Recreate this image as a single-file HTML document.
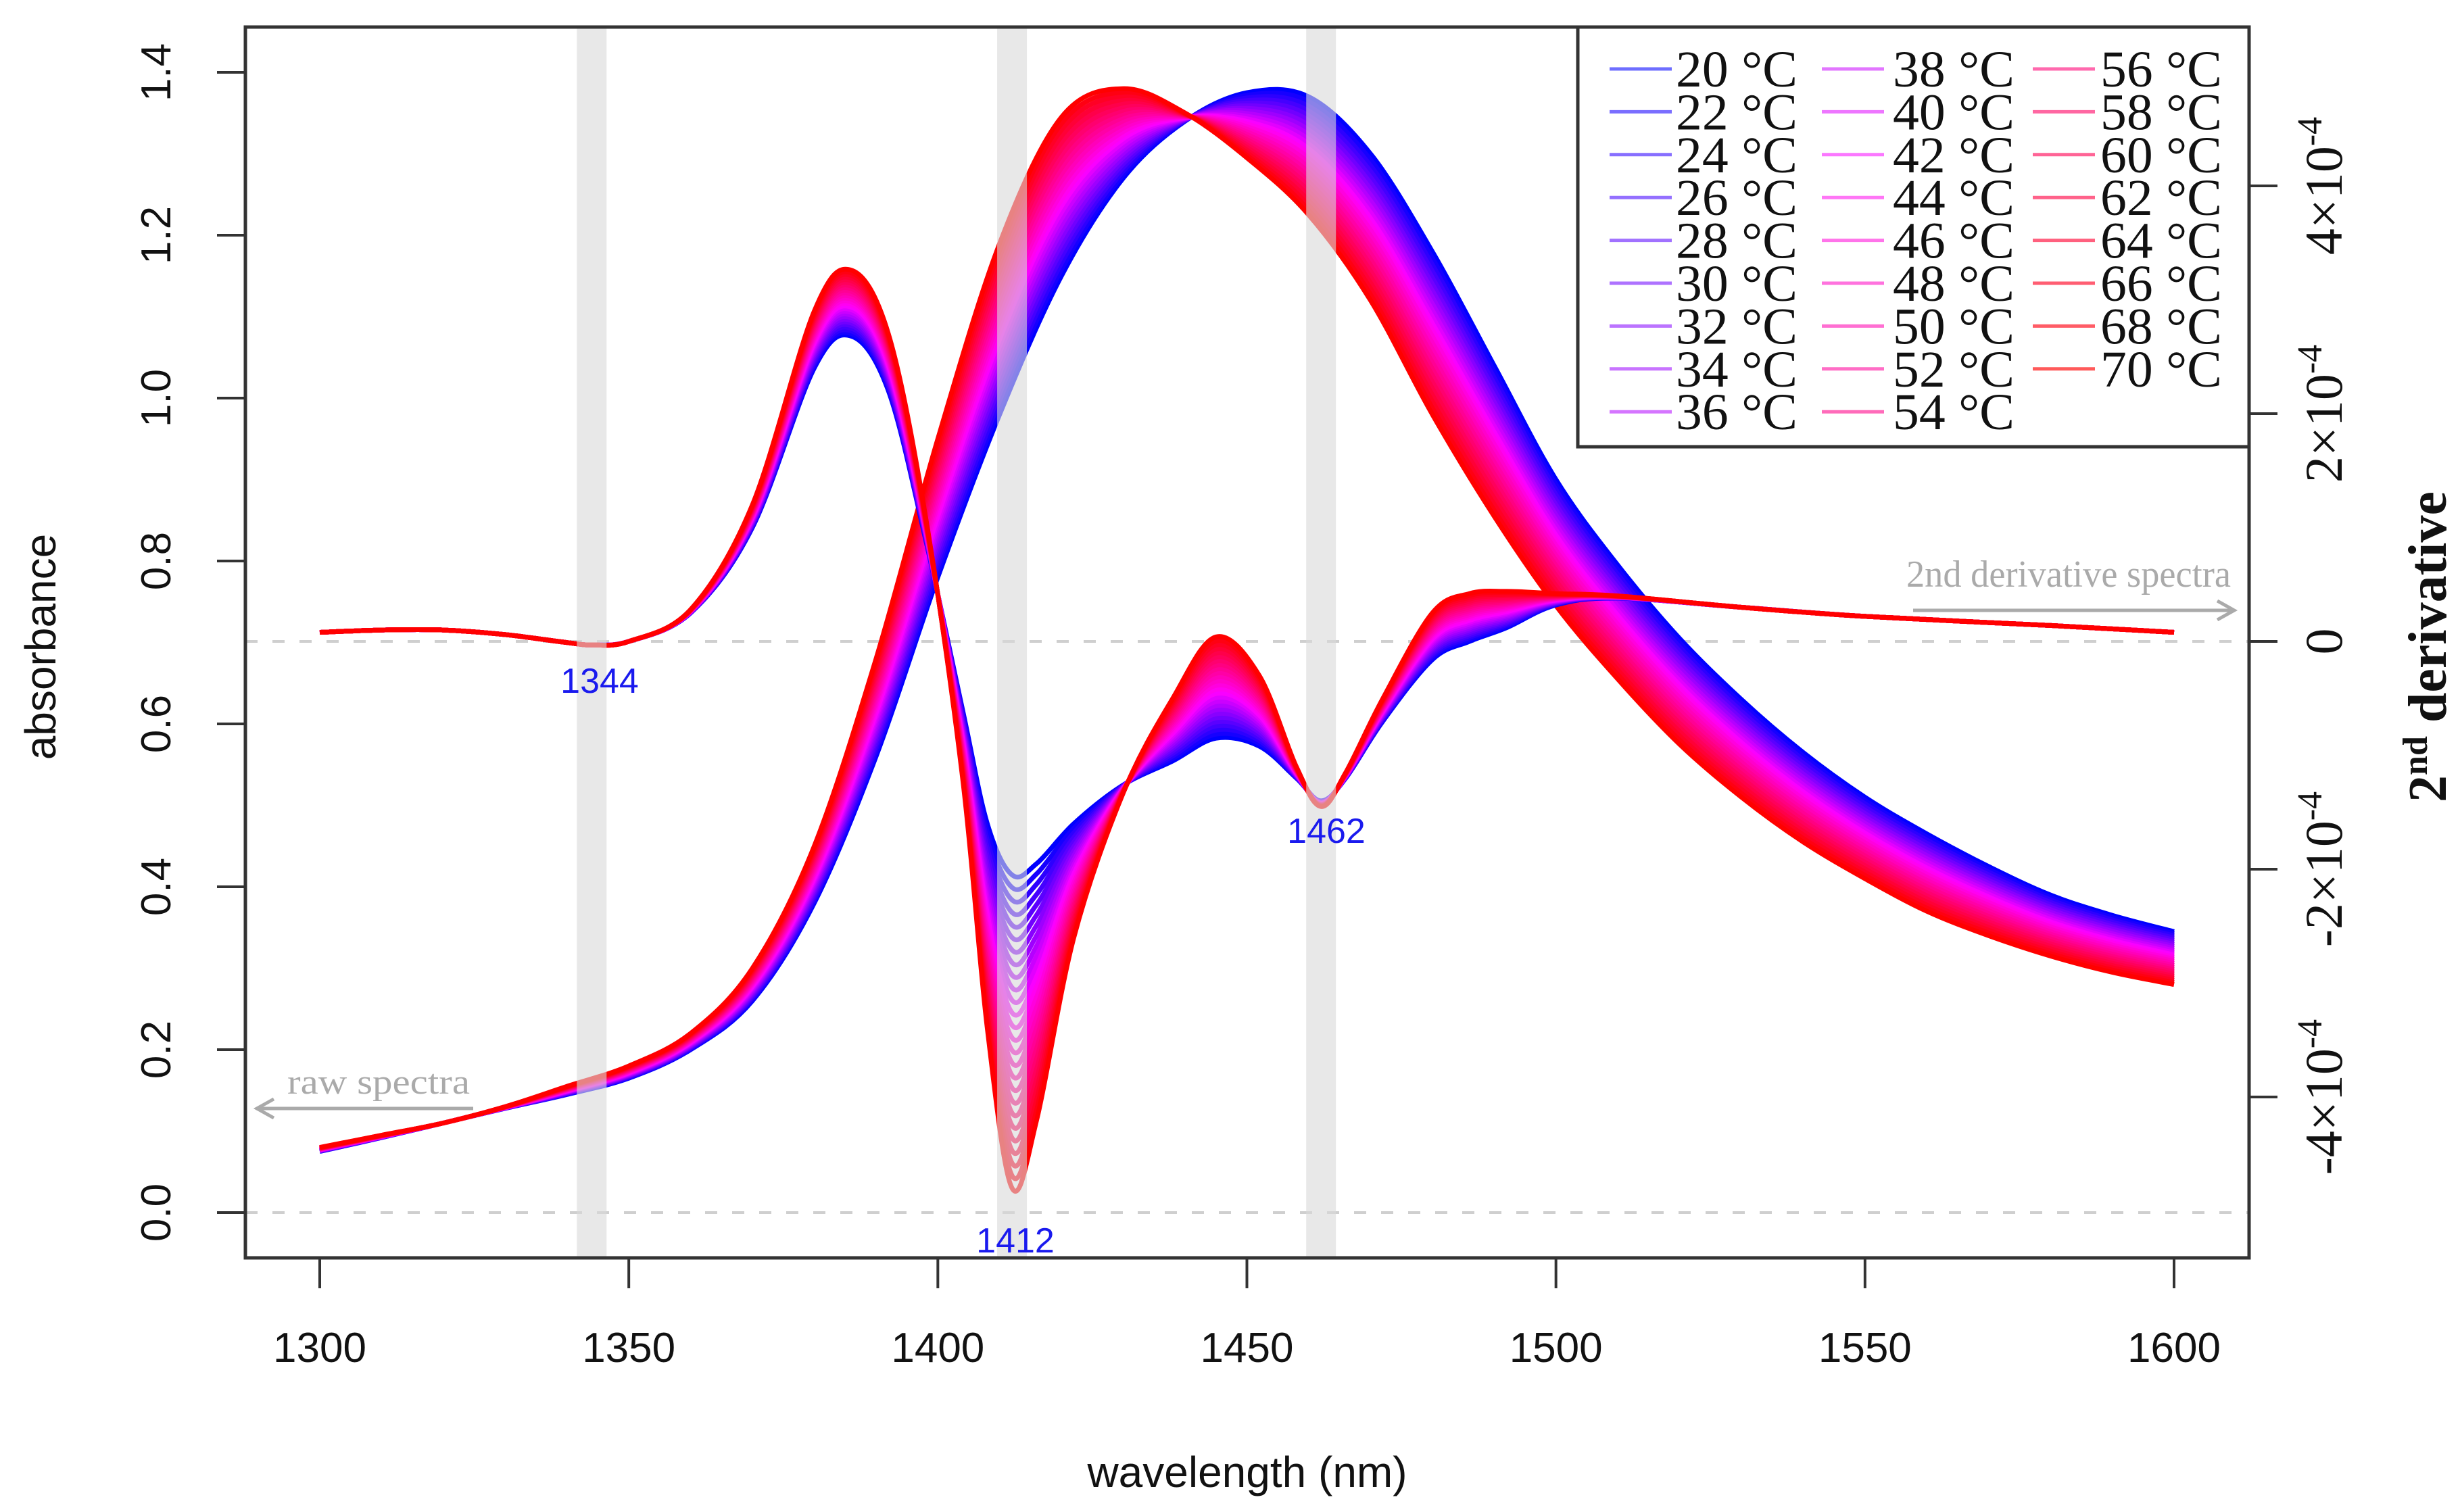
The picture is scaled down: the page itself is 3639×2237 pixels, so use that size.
<!DOCTYPE html>
<html><head><meta charset="utf-8"><style>
html,body{margin:0;padding:0;background:#fff}
svg{display:block}
</style></head><body>
<svg id="chart" width="3639" height="2237" viewBox="0 0 3639 2237" xmlns="http://www.w3.org/2000/svg">
<g id="bg"></g>
<g id="rawLines"></g>
<g id="derLines"></g>
<g id="bands"></g>
<g id="axes"></g>
<g id="legend"></g>
</svg>
<script>
const temps = [20,22,24,26,28,30,32,34,36,38,40,42,44,46,48,50,52,54,56,58,60,62,64,66,68,70];
const rawWl = [1300,1310,1320,1330,1340,1350,1360,1370,1380,1390,1400,1410,1420,1430,1440,1450,1460,1470,1480,1490,1500,1510,1520,1530,1540,1550,1560,1570,1580,1590,1600];
const raw20 = [0.075,0.092,0.11,0.128,0.145,0.165,0.2,0.26,0.38,0.56,0.78,0.98,1.15,1.27,1.34,1.375,1.37,1.30,1.18,1.04,0.90,0.795,0.705,0.63,0.565,0.51,0.465,0.425,0.39,0.365,0.345];
const raw70 = [0.08,0.095,0.11,0.13,0.155,0.18,0.22,0.30,0.45,0.68,0.95,1.19,1.345,1.38,1.35,1.295,1.225,1.12,0.98,0.855,0.745,0.655,0.575,0.51,0.455,0.41,0.37,0.34,0.315,0.295,0.28];
const derWl = [1300,1310,1320,1330,1340,1344,1350,1360,1370,1380,1386,1392,1398,1404,1408,1412,1416,1422,1430,1438,1445,1452,1458,1462,1466,1472,1480,1486,1492,1500,1510,1530,1550,1580,1600];
const der20 = [0.08,0.1,0.1,0.06,-0.01,-0.03,0.0,0.25,1.0,2.4,2.68,2.2,0.9,-0.6,-1.6,-2.05,-1.95,-1.6,-1.26,-1.05,-0.85,-0.92,-1.2,-1.4,-1.2,-0.7,-0.16,0.0,0.12,0.32,0.38,0.3,0.22,0.14,0.08];
const der70 = [0.08,0.1,0.1,0.06,-0.01,-0.03,0.0,0.28,1.2,2.9,3.26,2.7,1.1,-1.2,-3.4,-4.8,-4.2,-2.6,-1.33,-0.5,0.04,-0.3,-1.1,-1.45,-1.15,-0.5,0.25,0.42,0.44,0.42,0.4,0.3,0.22,0.14,0.08];
const xTicks = [1300,1350,1400,1450,1500,1550,1600];
const yTicks = [0.0,0.2,0.4,0.6,0.8,1.0,1.2,1.4];
const y2Ticks = [-4,-2,0,2,4];
const bandsWl = [1344,1412,1462];

const NS='http://www.w3.org/2000/svg';
const L=363,R=3327,T=40,B=1861;
const xs = w => 473 + (w-1300)*(3216-473)/300;
const ys = a => 1794 - a*(1794-107)/1.4;
const y2s = d => 949 - d*337/2;
function mk(tag,attrs,parent){const e=document.createElementNS(NS,tag);for(const k in attrs)e.setAttribute(k,attrs[k]);parent.appendChild(e);return e;}
function smooth(pts){let d='M'+pts[0][0]+','+pts[0][1];for(let i=0;i<pts.length-1;i++){const p0=pts[Math.max(0,i-1)],p1=pts[i],p2=pts[i+1],p3=pts[Math.min(pts.length-1,i+2)];const c1=[p1[0]+(p2[0]-p0[0])/6,p1[1]+(p2[1]-p0[1])/6],c2=[p2[0]-(p3[0]-p1[0])/6,p2[1]-(p3[1]-p1[1])/6];d+=`C${c1[0].toFixed(1)},${c1[1].toFixed(1)} ${c2[0].toFixed(1)},${c2[1].toFixed(1)} ${p2[0].toFixed(1)},${p2[1].toFixed(1)}`;}return d;}
function col(f){let r,g,b;if(f<0.45){const t=f/0.45;r=255*t;g=0;b=255;}else{const t=(f-0.45)/0.55;r=255;g=0;b=255*(1-t);}return `rgb(${r|0},${g|0},${b|0})`;}

const bg=document.getElementById('bg');
const zl1=mk('line',{x1:L,x2:R,y1:ys(0),y2:ys(0),stroke:'#cfcfcf','stroke-width':4,'stroke-dasharray':'18 22'},bg);

const zl2=mk('line',{x1:L,x2:R,y1:y2s(0),y2:y2s(0),stroke:'#cfcfcf','stroke-width':4,'stroke-dasharray':'18 22'},bg);


const rawG=document.getElementById('rawLines'),derG=document.getElementById('derLines');
temps.forEach((t,i)=>{
  const f=i/(temps.length-1);
  const rp=rawWl.map((w,j)=>[xs(w),ys(raw20[j]*(1-f)+raw70[j]*f)]);
  const p=mk('path',{d:smooth(rp),fill:'none',stroke:col(f),'stroke-width':7,'stroke-linejoin':'round'},rawG);
  
  const dp=derWl.map((w,j)=>[xs(w),y2s(der20[j]*(1-f)+der70[j]*f)]);
  const q=mk('path',{d:smooth(dp),fill:'none',stroke:col(f),'stroke-width':7,'stroke-linejoin':'round'},derG);
  
});

const bandG=document.getElementById('bands');
bandsWl.forEach(w=>{
  const r=mk('rect',{x:xs(w)-22,y:T,width:44,height:B-T,fill:'#d8d8d8','fill-opacity':0.6},bandG);
  
});

const ax=document.getElementById('axes');
const box=mk('rect',{x:L,y:T,width:R-L,height:B-T,fill:'none',stroke:'#333','stroke-width':5},ax);

const FS='"Liberation Sans", sans-serif', FT='"Liberation Serif", serif';
xTicks.forEach(v=>{
  const l=mk('line',{x1:xs(v),x2:xs(v),y1:B,y2:B+45,stroke:'#333','stroke-width':4},ax);
  
  const tx=mk('text',{x:xs(v),y:2015,'text-anchor':'middle','font-family':FS,'font-size':62,fill:'#111'},ax);
  tx.textContent=v;
});
yTicks.forEach(v=>{
  const l=mk('line',{x1:L,x2:L-42,y1:ys(v),y2:ys(v),stroke:'#333','stroke-width':4},ax);
  
  const tx=mk('text',{x:0,y:0,transform:`translate(252,${ys(v)}) rotate(-90)`,'text-anchor':'middle','font-family':FS,'font-size':62,fill:'#111'},ax);
  tx.textContent=v.toFixed(1);
});
y2Ticks.forEach(v=>{
  const l=mk('line',{x1:R,x2:R+42,y1:y2s(v),y2:y2s(v),stroke:'#333','stroke-width':4},ax);
  
  const tx=mk('text',{x:0,y:0,transform:`translate(3464,${y2s(v)}) rotate(-90)`,'text-anchor':'middle','font-family':FT,'font-size':78,fill:'#111'},ax);
  if(v===0){tx.textContent='0';}else{
    tx.textContent=(v<0?'-':'')+Math.abs(v)+'\u00d710';
    const s=mk('tspan',{dy:-30,'font-size':52},tx);s.textContent='-4';
  }
  
});
</script>
<script>
(function(){
const NS='http://www.w3.org/2000/svg';const svg=document.getElementById('chart');
function add(tag,attrs,txt,name){const e=document.createElementNS(NS,tag);for(const k in attrs)e.setAttribute(k,attrs[k]);if(txt!==undefined)e.textContent=txt;svg.appendChild(e);


return e;}
const FS='"Liberation Sans", sans-serif', FT='"Liberation Serif", serif';
add('text',{x:1845,y:2200,'text-anchor':'middle','font-family':FS,'font-size':64,fill:'#111'},'wavelength (nm)','x-axis-title');
add('text',{transform:'translate(82,957) rotate(-90)','text-anchor':'middle','font-family':FS,'font-size':64,fill:'#111'},'absorbance','y-axis-title');
const y2=add('text',{transform:'translate(3618,957) rotate(-90)','text-anchor':'middle','font-family':FT,'font-size':80,'font-weight':'bold',fill:'#111'},'2','y2-axis-title');
const sp=document.createElementNS(NS,'tspan');sp.setAttribute('dy','-28');sp.setAttribute('font-size','52');sp.textContent='nd';y2.appendChild(sp);
const sp2=document.createElementNS(NS,'tspan');sp2.setAttribute('dy','28');sp2.textContent=' derivative';y2.appendChild(sp2);
add('text',{x:887,y:1025,'text-anchor':'middle','font-family':FS,'font-size':52,fill:'#1a1aee'},'1344','peak-label-1344');
add('text',{x:1502,y:1853,'text-anchor':'middle','font-family':FS,'font-size':52,fill:'#1a1aee'},'1412','peak-label-1412');
add('text',{x:1962,y:1247,'text-anchor':'middle','font-family':FS,'font-size':52,fill:'#1a1aee'},'1462','peak-label-1462');
add('text',{x:560,y:1618,'text-anchor':'middle','font-family':FT,'font-size':52,fill:'#aaa',textLength:270,lengthAdjust:'spacingAndGlyphs'},'raw spectra','raw-spectra-note');
add('path',{d:'M700,1640 L385,1640 M405,1626 L380,1640 L405,1654',stroke:'#aaa','stroke-width':5,fill:'none'},undefined,'raw-spectra-arrow');
add('text',{x:3060,y:868,'text-anchor':'middle','font-family':FT,'font-size':56,fill:'#aaa',textLength:480,lengthAdjust:'spacingAndGlyphs'},'2nd derivative spectra','derivative-spectra-note');
add('path',{d:'M2830,903 L3300,903 M3280,889 L3305,903 L3280,917',stroke:'#aaa','stroke-width':5,fill:'none'},undefined,'derivative-spectra-arrow');
add('rect',{x:2334,y:40,width:993,height:621,fill:'#fff',stroke:'#333','stroke-width':5},undefined,'legend-box');
const temps=[20,22,24,26,28,30,32,34,36,38,40,42,44,46,48,50,52,54,56,58,60,62,64,66,68,70];
const colX=[[2381,2479],[2695,2800],[3007,3107]];
temps.forEach((t,i)=>{const c=Math.floor(i/9),r=i%9;const f=i/25;
 let rr,g,b;if(f<0.45){const u=f/0.45;rr=110+145*u;g=110+10*u;b=255;}else{const u=(f-0.45)/0.55;rr=255;g=120-30*u;b=255-165*u;}
 const y=102+r*63.4;
 add('line',{x1:colX[c][0],x2:colX[c][0]+92,y1:y,y2:y,stroke:`rgb(${rr|0},${g|0},${b|0})`,'stroke-width':5},undefined,'legend-swatch-'+t);
 add('text',{x:colX[c][1],y:y+26,'font-family':FT,'font-size':76,fill:'#111',textLength:180,lengthAdjust:'spacingAndGlyphs'},t+' \u00b0C','legend-entry-'+t);
});
})();
</script>
</body></html>
